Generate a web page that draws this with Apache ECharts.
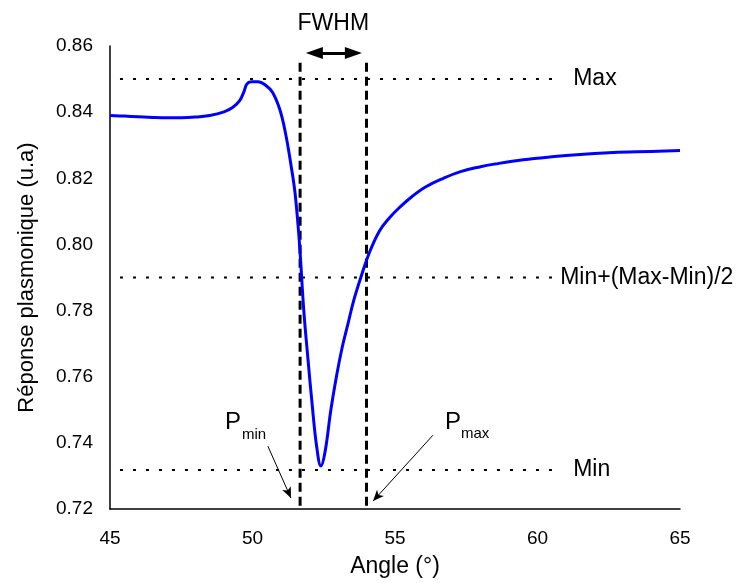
<!DOCTYPE html>
<html>
<head>
<meta charset="utf-8">
<script src="https://cdn.jsdelivr.net/npm/echarts@6/dist/echarts.min.js"></script>
<style>
html,body{margin:0;padding:0;background:#fff;}
#main{width:742px;height:583px;}
</style>
</head>
<body>
<div id="main"></div>
<script>
// Curve data (angle in degrees, plasmonic response)
const angles = [45.0,45.5,46.0,46.5,47.0,47.5,48.0,48.5,49.0,49.3,49.55,49.7,49.8,49.95,50.2,50.45,50.7,50.95,51.15,51.35,51.5,51.65,51.8,51.95,52.1,52.25,52.4,52.55,52.75,52.95,53.15,53.35,53.55,53.8,54.1,54.45,54.8,55.2,55.6,56.1,56.7,57.3,58.0,58.5,59.5,60.5,61.5,62.5,63.5,65.0];
const response = [0.8390,0.8388,0.8386,0.8384,0.8383,0.8383,0.8385,0.8390,0.8401,0.8414,0.8435,0.8462,0.8485,0.8492,0.8492,0.8482,0.8460,0.8410,0.8340,0.8240,0.8150,0.8000,0.7800,0.7650,0.7510,0.7390,0.7330,0.7375,0.7500,0.7603,0.7690,0.7760,0.7830,0.7900,0.7975,0.8040,0.8080,0.8115,0.8145,0.8175,0.8200,0.8220,0.8235,0.8243,0.8256,0.8265,0.8272,0.8277,0.8280,0.8284];

// Reference levels
const refLevels = [0.8500, 0.7900, 0.7318];
const refLabels = ['Max', 'Min+(Max-Min)/2', 'Min'];
const refSpan = [45.35, 60.55];

// FWHM bounds
const fwhmBounds = [51.67, 54.0];
const fwhmTop = 0.8549;
const fwhmArrow = [52.17, 53.54, 0.8579];

// Pointer arrows [x0, y0, x1, y1]
const pMinArrow = [50.54, 0.7390, 51.35, 0.7233];
const pMaxArrow = [56.33, 0.7423, 54.23, 0.7224];

// Axis ticks
const xTicks = [45, 50, 55, 60, 65];
const yTicks = [0.72, 0.74, 0.76, 0.78, 0.80, 0.82, 0.84, 0.86];

const FONT = '"Liberation Sans", Arial, sans-serif';
const chart = echarts.init(document.getElementById('main'), null, {renderer: 'canvas'});

const series = [];
series.push({
  type: 'line',
  data: angles.map((a, i) => [a, response[i]]),
  showSymbol: false,
  smooth: 0.4,
  lineStyle: {color: '#0000ff', width: 3},
  z: 5,
  silent: true
});
refLevels.forEach((lv, i) => {
  series.push({
    type: 'line',
    data: [[refSpan[0], lv], [refSpan[1], lv]],
    showSymbol: false,
    lineStyle: {color: '#000', width: 2, type: [3, 10]},
    silent: true,
    z: 3
  });
});
fwhmBounds.forEach(b => {
  series.push({
    type: 'line',
    data: [[b, fwhmTop], [b, yTicks[0]]],
    showSymbol: false,
    lineStyle: {color: '#000', width: 3, type: [9, 5]},
    silent: true,
    z: 4
  });
});
series.push({
  type: 'line',
  data: [],
  silent: true,
  markLine: {
    silent: true,
    animation: false,
    label: {show: false},
    data: [
      [{coord: [fwhmArrow[0], fwhmArrow[2]], symbol: 'triangle', symbolSize: [12, 17], lineStyle: {width: 3, color: '#000', type: 'solid'}},
       {coord: [fwhmArrow[1], fwhmArrow[2]], symbol: 'triangle', symbolSize: [12, 17]}],
      [{coord: [pMinArrow[0], pMinArrow[1]], symbol: 'none', lineStyle: {width: 1, color: '#000', type: 'solid'}},
       {coord: [pMinArrow[2], pMinArrow[3]], symbol: 'arrow', symbolSize: [7, 11]}],
      [{coord: [pMaxArrow[0], pMaxArrow[1]], symbol: 'none', lineStyle: {width: 1, color: '#000', type: 'solid'}},
       {coord: [pMaxArrow[2], pMaxArrow[3]], symbol: 'arrow', symbolSize: [7, 11]}]
    ]
  }
});

chart.setOption({
  animation: false,
  backgroundColor: '#fff',
  textStyle: {fontFamily: FONT},
  grid: {left: 110, right: 62, top: 46, bottom: 72, containLabel: false},
  xAxis: {
    type: 'value',
    min: xTicks[0], max: xTicks[xTicks.length - 1], interval: 5,
    name: 'Angle (°)', nameLocation: 'middle', nameGap: 46,
    nameTextStyle: {fontSize: 23, color: '#000', fontFamily: FONT},
    axisLine: {show: true, onZero: false, lineStyle: {color: '#000', width: 1.5}},
    axisTick: {show: false},
    splitLine: {show: false},
    axisLabel: {fontSize: 19, color: '#000', margin: 20, fontFamily: FONT}
  },
  yAxis: {
    type: 'value',
    min: yTicks[0], max: yTicks[yTicks.length - 1], interval: 0.02,
    name: 'Réponse plasmonique (u.a)', nameLocation: 'middle', nameGap: 72, nameRotate: 90,
    nameTextStyle: {fontSize: 22, color: '#000', fontFamily: FONT},
    axisLine: {show: true, onZero: false, lineStyle: {color: '#000', width: 1.5}},
    axisTick: {show: false},
    splitLine: {show: false},
    axisLabel: {fontSize: 19, color: '#000', margin: 17, fontFamily: FONT, formatter: v => v.toFixed(2)}
  },
  series: series
});

function px(x, y) { return chart.convertToPixel({gridIndex: 0}, [x, y]); }
const g = [];
const labelGap = [20, 7, 20];
refLevels.forEach((lv, i) => {
  const p = px(refSpan[1], lv);
  g.push({type: 'text', x: p[0] + labelGap[i], y: p[1], style: {text: refLabels[i], font: '23px ' + FONT, fill: '#000', textVerticalAlign: 'middle', verticalAlign: 'middle'}, z: 10});
});
const fw = px((fwhmBounds[0] + fwhmBounds[1]) / 2, fwhmArrow[2]);
g.push({type: 'text', x: fw[0], y: fw[1] - 29, style: {text: 'FWHM', font: '23px ' + FONT, fill: '#000', align: 'center', textAlign: 'center', verticalAlign: 'middle', textVerticalAlign: 'middle'}, z: 10});
const pm = px(pMinArrow[0], pMinArrow[1]);
g.push({type: 'text', x: pm[0] - 43, y: pm[1] - 24, style: {text: 'P', font: '24px ' + FONT, fill: '#000', verticalAlign: 'middle', textVerticalAlign: 'middle'}, z: 10});
g.push({type: 'text', x: pm[0] - 26, y: pm[1] - 11, style: {text: 'min', font: '15px ' + FONT, fill: '#000', verticalAlign: 'middle', textVerticalAlign: 'middle'}, z: 10});
const pM = px(pMaxArrow[0], pMaxArrow[1]);
g.push({type: 'text', x: pM[0] + 12, y: pM[1] - 13, style: {text: 'P', font: '24px ' + FONT, fill: '#000', verticalAlign: 'middle', textVerticalAlign: 'middle'}, z: 10});
g.push({type: 'text', x: pM[0] + 28, y: pM[1] - 1, style: {text: 'max', font: '15px ' + FONT, fill: '#000', verticalAlign: 'middle', textVerticalAlign: 'middle'}, z: 10});
chart.setOption({graphic: g});
</script>
</body>
</html>
